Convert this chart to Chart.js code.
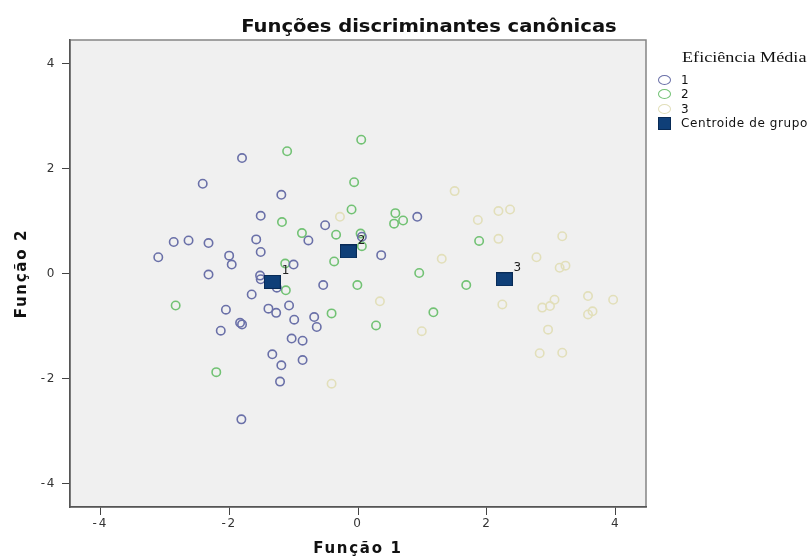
<!DOCTYPE html>
<html lang="pt">
<head>
<meta charset="utf-8">
<title>Funções discriminantes canônicas</title>
<script src="https://cdn.jsdelivr.net/npm/chart.js@4.4.0/dist/chart.umd.min.js"></script>
<style>
    html, body { margin: 0; padding: 0; background: #fff; }
    #wrap { position: relative; width: 810px; height: 558px; }
    #chart { position: absolute; left: 0; top: 0; }
    #title {
        position: absolute; left: 229px; top: 16px; width: 400px;
        text-align: center; font: bold 17px "DejaVu Sans", sans-serif; color: #111;
        white-space: nowrap; transform: scaleX(1.15); transform-origin: 50% 50%;
    }
    #legend { position: absolute; left: 658px; top: 49px; font: 12px "DejaVu Sans", sans-serif; color: #111; }
    #legend .ttl {
        font: 15px "Liberation Serif", serif; line-height: 17px; margin-left: 24px; margin-bottom: 7px;
        white-space: nowrap; transform: scaleX(1.21); transform-origin: 0 50%;
    }
    #legend .item { display: flex; align-items: center; height: 14.3px; white-space: nowrap; letter-spacing: 0.6px; }
    #legend .icon { box-sizing: border-box; width: 13px; height: 10px; margin-right: 10px; }
</style>
</head>
<body>
<div id="wrap">
    <canvas id="chart" width="810" height="558"></canvas>
    <div id="title">Funções discriminantes canônicas</div>
    <div id="legend"></div>
</div>
<script>
// Values (Função 1, Função 2)
const group1Points = [
    [-1.80, 2.20], [-2.41, 1.71], [-1.19, 1.50], [-1.51, 1.10], [-0.51, 0.92],
    [-2.86, 0.60], [-2.63, 0.63], [-2.32, 0.58], [-1.58, 0.65], [-0.77, 0.63],
    [-3.10, 0.31], [-2.00, 0.34], [-1.96, 0.17], [-1.51, 0.41], [-2.32, -0.02],
    [-1.00, 0.17], [-1.52, -0.04], [0.36, 0.35], [0.92, 1.08], [0.06, 0.70],
    [-0.54, -0.22], [-1.65, -0.40], [-2.05, -0.69], [-1.83, -0.94], [-1.80, -0.97],
    [-2.13, -1.09], [-1.39, -0.67], [-1.27, -0.75], [-1.07, -0.61], [-0.99, -0.88],
    [-0.68, -0.83], [-0.64, -1.02], [-1.03, -1.24], [-0.86, -1.28], [-1.33, -1.54],
    [-1.19, -1.75], [-0.86, -1.65], [-1.21, -2.06], [-1.81, -2.78], [-1.26, -0.27],
    [-1.51, -0.11]
];
const group2Points = [
    [-1.10, 2.33], [0.05, 2.55], [-0.06, 1.74], [-0.10, 1.22], [0.58, 1.15],
    [0.56, 0.95], [0.70, 1.01], [-1.18, 0.98], [-0.87, 0.77], [-0.34, 0.74],
    [0.04, 0.76], [0.06, 0.52], [-0.37, 0.23], [-1.13, 0.19], [0.95, 0.01],
    [-0.01, -0.22], [1.68, -0.22], [1.88, 0.62], [-2.83, -0.61], [-2.20, -1.88],
    [-1.12, -0.32], [-0.41, -0.76], [0.28, -0.99], [1.17, -0.74]
];
const group3Points = [
    [-0.28, 1.08], [1.50, 1.57], [1.30, 0.28], [1.86, 1.02], [0.34, -0.53],
    [0.99, -1.10], [-0.41, -2.10], [2.18, 1.19], [2.36, 1.22], [2.18, 0.66],
    [3.17, 0.71], [2.77, 0.31], [3.13, 0.11], [3.22, 0.15], [2.24, -0.59],
    [3.57, -0.43], [3.96, -0.50], [3.05, -0.50], [2.98, -0.62], [2.86, -0.65],
    [3.64, -0.72], [3.57, -0.78], [2.95, -1.07], [2.82, -1.52], [3.17, -1.51]
];
const centroidPoints = [[-1.33, -0.16], [-0.15, 0.42], [2.27, -0.11]];
const groupLabels = ['1', '2', '3'];
const xTicks = [-4, -2, 0, 2, 4];
const yTicks = [-4, -2, 0, 2, 4];
const xRange = [-4.47, 4.47];
const yRange = [-4.45, 4.45];

const toXY = pts => pts.map(p => ({ x: p[0], y: p[1] }));

// square marker used for the group centroids
const centroidIcon = document.createElement('canvas');
centroidIcon.width = 17;
centroidIcon.height = 14;
(function () {
    const c = centroidIcon.getContext('2d');
    c.fillStyle = '#0f3f78';
    c.fillRect(0, 0, 17, 14);
    c.strokeStyle = '#082a55';
    c.lineWidth = 1;
    c.strokeRect(0.5, 0.5, 16, 13);
})();

function groupDataset(label, pts, color, order) {
    return {
        label: label,
        data: toXY(pts),
        pointStyle: 'circle',
        pointRadius: 4.2,
        pointBorderWidth: 1.6,
        pointBorderColor: color,
        pointBackgroundColor: 'rgba(0,0,0,0)',
        order: order
    };
}

// plot background and frame; wider letter spacing for the canvas text
const plotBackground = {
    id: 'plotBackground',
    beforeDraw(chart) {
        const { ctx, chartArea: a } = chart;
        ctx.save();
        ctx.fillStyle = '#f0f0f0';
        ctx.fillRect(a.left, a.top, a.right - a.left, a.bottom - a.top);
        ctx.strokeStyle = '#858585';
        ctx.lineWidth = 1.5;
        ctx.strokeRect(a.left, a.top, a.right - a.left, a.bottom - a.top);
        ctx.restore();
        ctx.letterSpacing = '1.7px';
    },
    afterDraw(chart) {
        chart.ctx.letterSpacing = '0px';
    }
};

// numbers next to the centroids
const centroidLabels = {
    id: 'centroidLabels',
    afterDatasetsDraw(chart) {
        const { ctx } = chart;
        chart.data.datasets.forEach((ds, i) => {
            if (!ds.isCentroid) return;
            const meta = chart.getDatasetMeta(i);
            ctx.save();
            ctx.fillStyle = '#222';
            ctx.font = '12px "DejaVu Sans", sans-serif';
            ctx.textAlign = 'center';
            ctx.textBaseline = 'middle';
            meta.data.forEach((pt, j) => {
                ctx.fillText(groupLabels[j], pt.x + 14, pt.y - 11);
            });
            ctx.restore();
        });
    }
};

// legend built as html from the datasets
const htmlLegend = {
    id: 'htmlLegend',
    afterUpdate(chart) {
        const box = document.getElementById('legend');
        box.innerHTML = '';
        const ttl = document.createElement('div');
        ttl.className = 'ttl';
        ttl.textContent = 'Eficiência Média';
        box.appendChild(ttl);
        chart.data.datasets.forEach(ds => {
            const row = document.createElement('div');
            row.className = 'item';
            const icon = document.createElement('span');
            icon.className = 'icon';
            if (ds.isCentroid) {
                icon.style.background = '#0f3f78';
                icon.style.border = '1px solid #082a55';
                icon.style.height = '13px';
            } else {
                icon.style.border = '1.6px solid ' + ds.pointBorderColor;
                icon.style.borderRadius = '50%';
            }
            const txt = document.createElement('span');
            txt.textContent = ds.label;
            row.appendChild(icon);
            row.appendChild(txt);
            box.appendChild(row);
        });
    }
};

const tickFont = { family: 'DejaVu Sans', size: 12 };
const axisTitleFont = { family: 'DejaVu Sans', size: 15, weight: 'bold' };

new Chart(document.getElementById('chart'), {
    type: 'scatter',
    data: {
        datasets: [
            groupDataset('1', group1Points, '#6a70a8', 1),
            groupDataset('2', group2Points, '#72c274', 2),
            groupDataset('3', group3Points, '#e2dfba', 3),
            {
                label: 'Centroide de grupo',
                data: toXY(centroidPoints),
                isCentroid: true,
                pointStyle: centroidIcon,
                pointRadius: 8,
                order: 0
            }
        ]
    },
    options: {
        responsive: false,
        animation: false,
        events: [],
        layout: { padding: { top: 40, right: 164, left: 0, bottom: 0 } },
        plugins: {
            legend: { display: false },
            tooltip: { enabled: false }
        },
        scales: {
            x: {
                type: 'linear',
                min: xRange[0],
                max: xRange[1],
                afterBuildTicks: s => { s.ticks = xTicks.map(v => ({ value: v })); },
                afterFit: s => { s.height = 51; },
                grid: { drawOnChartArea: false, drawTicks: true, tickLength: 8, color: '#444', lineWidth: 1 },
                border: { display: true, color: '#555', width: 1.5 },
                ticks: { padding: 2, color: '#333', font: tickFont, maxRotation: 0 },
                title: { display: true, text: 'Função 1', color: '#111', font: axisTitleFont, padding: 0 }
            },
            y: {
                type: 'linear',
                min: yRange[0],
                max: yRange[1],
                afterBuildTicks: s => { s.ticks = yTicks.map(v => ({ value: v })); },
                afterFit: s => { s.width = 70; },
                grid: { drawOnChartArea: false, drawTicks: true, tickLength: 8, color: '#444', lineWidth: 1 },
                border: { display: true, color: '#555', width: 1.5 },
                ticks: { padding: 6, color: '#333', font: tickFont },
                title: { display: true, text: 'Função 2', color: '#111', font: axisTitleFont, padding: { top: 13, bottom: 0 } }
            }
        }
    },
    plugins: [plotBackground, centroidLabels, htmlLegend]
});
</script>
</body>
</html>
